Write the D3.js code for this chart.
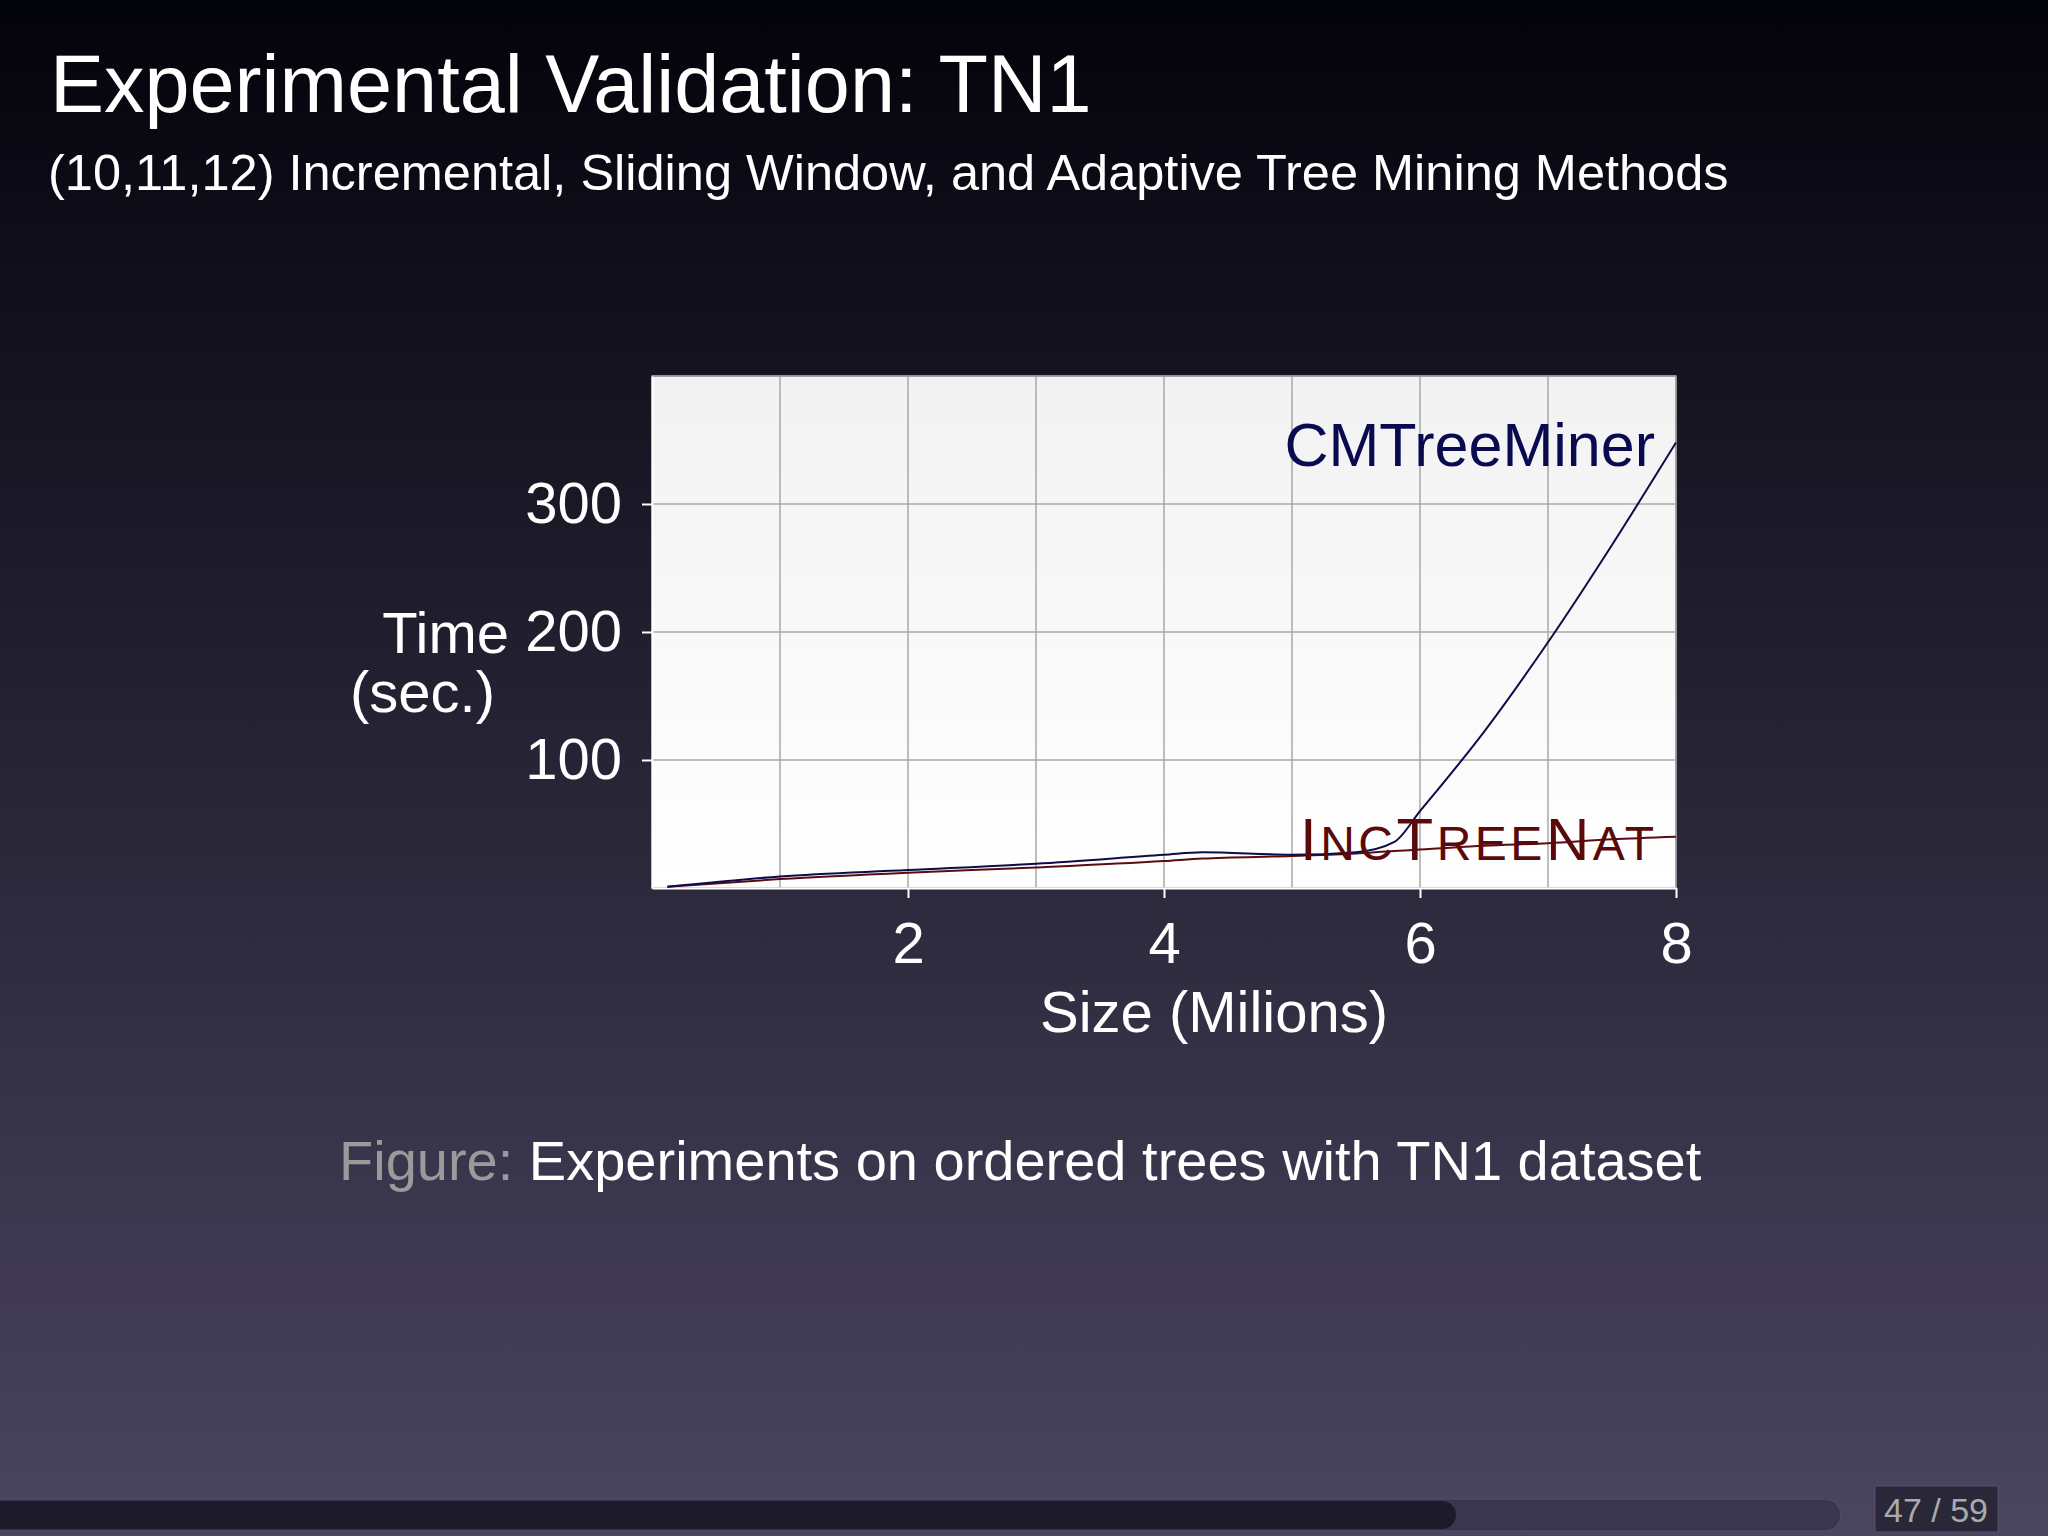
<!DOCTYPE html>
<html><head><meta charset="utf-8">
<script src="https://cdn.jsdelivr.net/npm/d3@7"></script>
<style>body{margin:0;overflow:hidden}svg{display:block;font-family:"Liberation Sans",Arial,sans-serif}</style>
</head><body>
<script>
const sizes = [0.12, 1, 2, 3, 4, 4.3, 5, 5.5, 5.8, 6, 6.5, 7, 7.5, 8]
const cmTreeMiner = [1, 9, 14, 19, 26, 28, 26, 28, 36, 60, 122, 192, 268, 348]
const incTreeNat = [1, 7, 12, 16, 21, 23, 25, 27, 29, 30, 33, 35, 38, 40]
const xTicks = [2, 4, 6, 8]
const yTicks = [100, 200, 300]

const W = 2048, H = 1536
const svg = d3.select('body').append('svg').attr('width', W).attr('height', H)
const defs = svg.append('defs')
const bg = defs.append('linearGradient').attr('id', 'bg').attr('x1', 0).attr('x2', 0).attr('y1', 0).attr('y2', 1)
bg.append('stop').attr('offset', 0).attr('stop-color', '#03030b')
bg.append('stop').attr('offset', 1).attr('stop-color', '#4b4560')
const pg = defs.append('linearGradient').attr('id', 'pg').attr('x1', 0).attr('x2', 0).attr('y1', 0).attr('y2', 1)
pg.append('stop').attr('offset', 0).attr('stop-color', '#f2f2f2')
pg.append('stop').attr('offset', 1).attr('stop-color', '#ffffff')
svg.append('rect').attr('width', W).attr('height', H).attr('fill', 'url(#bg)')

svg.append('text').attr('x', 50).attr('y', 112).attr('fill', '#fff').attr('font-size', 81).text('Experimental Validation: TN1')
svg.append('text').attr('x', 48).attr('y', 190).attr('fill', '#fff').attr('font-size', 50.5)
  .text('(10,11,12) Incremental, Sliding Window, and Adaptive Tree Mining Methods')

const L = 652, R = 1676, T = 376, B = 888
const x = d3.scaleLinear().domain([0, 8]).range([L, R])
const y = d3.scaleLinear().domain([0, 400]).range([B, T])

svg.append('rect').attr('x', L).attr('y', T).attr('width', R - L).attr('height', B - T).attr('fill', 'url(#pg)')
const grid = svg.append('g').attr('stroke', '#a8a8a8').attr('stroke-width', 1.5)
grid.selectAll('.v').data(d3.range(1, 9)).join('line')
  .attr('x1', d => x(d)).attr('x2', d => x(d)).attr('y1', T).attr('y2', B)
grid.selectAll('.h').data([100, 200, 300, 400]).join('line')
  .attr('x1', L).attr('x2', R).attr('y1', d => y(d)).attr('y2', d => y(d))
svg.append('rect').attr('x', L).attr('y', T).attr('width', R - L).attr('height', B - T)
  .attr('fill', 'none').attr('stroke', '#999').attr('stroke-width', 1.5)

const xAxis = svg.append('g').attr('transform', `translate(0,${B})`)
  .call(d3.axisBottom(x).tickValues(xTicks).tickSize(10).tickSizeOuter(0).tickPadding(24))
const yAxis = svg.append('g').attr('transform', `translate(${L},0)`)
  .call(d3.axisLeft(y).tickValues(yTicks).tickSize(10).tickSizeOuter(0).tickPadding(20))
for (const a of [xAxis, yAxis]) {
  a.select('.domain').attr('stroke', '#fff').attr('stroke-width', 2)
  a.selectAll('line').attr('stroke', '#fff').attr('stroke-width', 2)
  a.selectAll('text').attr('fill', '#fff').attr('font-size', 58).attr('font-family', 'Liberation Sans, Arial, sans-serif')
}

const line = d3.line().curve(d3.curveMonotoneX).x((d, i) => x(sizes[i])).y(d => y(d))
svg.append('path').datum(incTreeNat).attr('d', line).attr('fill', 'none').attr('stroke', '#5a0c12').attr('stroke-width', 2)
svg.append('path').datum(cmTreeMiner).attr('d', line).attr('fill', 'none').attr('stroke', '#0c0c4a').attr('stroke-width', 2)

svg.append('text').attr('x', 1655).attr('y', 466).attr('text-anchor', 'end').attr('fill', '#0a0a50').attr('font-size', 61).text('CMTreeMiner')
const inc = svg.append('text').attr('x', 1300).attr('y', 860).attr('fill', '#5a0a0a').attr('textLength', 354).attr('lengthAdjust', 'spacing')
;[['I', 60], ['NC', 48], ['T', 60], ['REE', 48], ['N', 60], ['AT', 48]].forEach(([t, s]) => inc.append('tspan').attr('font-size', s).text(t))

svg.append('text').attr('x', 509).attr('y', 653).attr('text-anchor', 'end').attr('fill', '#fff').attr('font-size', 58).text('Time')
svg.append('text').attr('x', 350).attr('y', 712).attr('fill', '#fff').attr('font-size', 58).text('(sec.)')
svg.append('text').attr('x', 1214).attr('y', 1032).attr('text-anchor', 'middle').attr('fill', '#fff').attr('font-size', 58).text('Size (Milions)')

const cap = svg.append('text').attr('x', 339).attr('y', 1180).attr('font-size', 56)
cap.append('tspan').attr('fill', '#9a9a9a').text('Figure: ')
cap.append('tspan').attr('fill', '#fff').text('Experiments on ordered trees with TN1 dataset')

svg.append('rect').attr('x', -20).attr('y', 1499).attr('width', 1861).attr('height', 32).attr('rx', 16).attr('fill', '#3a3650').attr('stroke', '#555068')
svg.append('rect').attr('x', -20).attr('y', 1501).attr('width', 1476).attr('height', 28).attr('rx', 14).attr('fill', '#1d1b2a')
svg.append('rect').attr('x', 1875).attr('y', 1486).attr('width', 123).attr('height', 46).attr('fill', '#2a2738').attr('stroke', '#555068')
svg.append('text').attr('x', 1936).attr('y', 1522).attr('text-anchor', 'middle').attr('fill', '#aaa').attr('font-size', 34).text('47 / 59')
</script>
</body></html>
